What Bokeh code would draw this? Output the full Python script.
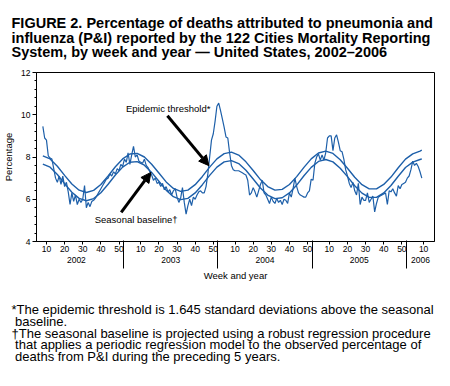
from bokeh.plotting import figure
from bokeh.models import FixedTicker, LinearAxis, Label, Arrow, NormalHead, Range1d, Title
from bokeh.embed import file_html
from bokeh.resources import INLINE

# ---------------- data ----------------
YEARS = [2002, 2003, 2004, 2005, 2006]
WEEKS_PER_YEAR = 52
FIRST_WEEK = 8                 # first observation: 2002, week 8
WEEK_TICKS = [10, 20, 30, 40, 50]
Y_TICKS = [4, 6, 8, 10, 12]

# weekly percentage of deaths due to P&I (observed)
pct = [
    9.45, 8.9, 8.8, 8.05, 7.95, 7.9, 7.45, 7.0, 6.8, 7.1,
    6.7, 7.1, 6.6, 6.8, 6.35, 5.75, 6.3, 5.9, 6.2, 5.75,
    6.0, 5.85, 6.0, 6.65, 5.6, 5.85, 5.65, 5.9, 5.95, 6.05,
    6.2, 6.35, 6.5, 6.65, 6.8, 6.95, 7.0, 7.2, 7.1, 7.3,
    7.2, 7.45, 7.35, 7.65, 7.55, 7.9, 7.75, 8.2, 7.65, 8.1,
    8.5, 8.0, 8.1, 7.8, 7.75, 7.7, 7.9, 7.6, 7.5, 7.3,
    7.15, 6.9, 7.0, 6.75, 6.8, 6.6, 6.75, 6.45, 6.6, 6.35,
    6.45, 6.2, 6.4, 6.5, 6.1, 5.85, 6.05, 6.55, 5.85, 5.3,
    5.7, 6.0, 5.7, 6.1, 6.0, 6.2, 6.35, 6.4, 6.3, 6.3,
    6.6, 7.2, 8.0, 8.8, 9.1, 9.7, 10.4, 10.55, 10.2, 9.8,
    9.4, 8.95, 8.9, 8.2, 7.6, 7.4, 7.35, 7.35, 7.35, 7.3,
    7.25, 7.2, 7.15, 6.9, 6.2, 6.3, 6.55, 6.35, 6.1, 6.4,
    6.7, 6.9, 6.3, 6.2, 6.0, 5.8, 6.1, 5.9, 5.8, 6.05,
    5.85, 5.95, 5.75, 6.0, 5.95, 5.8, 6.3, 6.1, 6.5, 7.0,
    6.6, 6.3, 6.2, 6.15, 6.1, 6.1, 6.3, 6.4, 6.95, 6.9,
    7.7, 8.0, 8.15, 7.85, 8.1, 7.85, 8.2, 8.9, 9.0, 9.0,
    8.3, 8.9, 9.05, 8.7, 8.3, 8.25, 7.9, 7.4, 7.1, 6.75,
    6.55, 6.8, 6.4, 6.2, 6.75, 5.75, 6.1, 5.95, 5.95, 6.3,
    5.85, 6.0, 6.15, 5.4, 5.8, 6.1, 6.15, 6.2, 6.25, 6.3,
    5.75, 6.4, 6.35, 6.5, 6.3, 6.15, 6.65, 6.5, 6.7, 6.75,
    6.8, 7.0, 7.1, 7.4, 7.8, 7.6, 7.7, 7.55, 7.3, 7.0,
]

# seasonal baseline and epidemic threshold, read every 4 weeks (last = final week)
BASE_STEP = 4
baseline = [
    7.66, 7.52, 7.17, 6.74, 6.33, 6.04, 5.93, 6.03, 6.31, 6.71,
    7.15, 7.52, 7.75, 7.78, 7.61, 7.27, 6.85, 6.43, 6.12, 5.98,
    6.04, 6.30, 6.69, 7.13, 7.52, 7.77, 7.83, 7.69, 7.37, 6.96,
    6.53, 6.20, 6.03, 6.07, 6.30, 6.67, 7.11, 7.51, 7.79, 7.88,
    7.77, 7.47, 7.07, 6.64, 6.29, 6.09, 6.09, 6.30, 6.65, 7.09,
    7.50, 7.76, 7.88, 7.91,
]
threshold = [
    8.05, 7.91, 7.56, 7.13, 6.72, 6.43, 6.32, 6.42, 6.70, 7.10,
    7.54, 7.91, 8.14, 8.17, 8.00, 7.66, 7.24, 6.82, 6.51, 6.37,
    6.43, 6.69, 7.08, 7.52, 7.91, 8.16, 8.23, 8.09, 7.77, 7.36,
    6.93, 6.60, 6.43, 6.47, 6.70, 7.07, 7.51, 7.91, 8.19, 8.28,
    8.17, 7.87, 7.47, 7.04, 6.69, 6.49, 6.49, 6.70, 7.05, 7.49,
    7.90, 8.15, 8.28, 8.32,
]

TITLE = [
    "FIGURE 2. Percentage of deaths attributed to pneumonia and",
    "influenza (P&I) reported by the 122 Cities Mortality Reporting",
    "System, by week and year \u2014 United States, 2002\u20132006",
]
FOOTNOTES = [
    "*The epidemic threshold is 1.645 standard deviations above the seasonal",
    "\u00a0baseline.",
    "\u2020The seasonal baseline is projected using a robust regression procedure",
    "\u00a0that applies a periodic regression model to the observed percentage of",
    "\u00a0deaths from P&I during the preceding 5 years.",
]

# ---------------- styles ----------------
BLUE = "#1d5fa9"
FONT = "Liberation Sans"


def xpos(year, week):
    return (year - YEARS[0]) * WEEKS_PER_YEAR + week


obs_x = [FIRST_WEEK + i for i in range(len(pct))]
base_x = [FIRST_WEEK + min(i * BASE_STEP, len(pct) - 1) for i in range(len(baseline))]

X_START, X_END = 4.5, 224.0

p = figure(width=450, height=386, x_range=Range1d(X_START, X_END), y_range=Range1d(4, 12),
           output_backend="svg", toolbar_location=None,
           min_border_left=33, min_border_right=16, min_border_top=72, min_border_bottom=145)
p.background_fill_color = "white"
p.border_fill_color = "white"
p.outline_line_color = "black"
p.outline_line_width = 1
p.grid.visible = False

# title (multi-line)
p.title.text = "\n".join(TITLE)
p.title.text_font = FONT
p.title.text_font_size = "14.5px"
p.title.text_font_style = "bold"
p.title.text_color = "black"
p.title.text_line_height = 0.92
p.title.align = "left"
p.title.offset = -25
p.title.standoff = 24

# observed and model lines
p.line(base_x, threshold, color=BLUE, line_width=1.4)
p.line(base_x, baseline, color=BLUE, line_width=1.4)
p.line(obs_x, pct, color=BLUE, line_width=1.2)

# y axis
minor_y = [a + k * 0.4 for a in Y_TICKS[:-1] for k in range(1, 5)]
ya = p.yaxis[0]
ya.ticker = FixedTicker(ticks=Y_TICKS, minor_ticks=minor_y)
ya.axis_line_color = "black"
ya.major_tick_out = 4
ya.major_tick_in = 0
ya.minor_tick_out = 2
ya.minor_tick_in = 0
ya.major_tick_line_color = "black"
ya.minor_tick_line_color = "black"
ya.major_label_text_font = FONT
ya.major_label_text_font_size = "8.5px"
ya.major_label_text_color = "black"
ya.major_label_standoff = 2
ya.axis_label = "Percentage"
ya.axis_label_text_font = FONT
ya.axis_label_text_font_size = "9.5px"
ya.axis_label_text_font_style = "normal"
ya.axis_label_text_color = "black"
ya.axis_label_standoff = 4

# x axis: week ticks
week_ticks = [xpos(y, w) for y in YEARS for w in WEEK_TICKS if xpos(y, w) <= X_END]
xa = p.xaxis[0]
xa.ticker = FixedTicker(ticks=week_ticks, minor_ticks=[])
xa.major_label_overrides = {t: str((t - 1) % WEEKS_PER_YEAR + 1) for t in week_ticks}
xa.axis_line_color = "black"
xa.major_tick_out = 3
xa.major_tick_in = 0
xa.major_tick_line_color = "black"
xa.major_label_text_font = FONT
xa.major_label_text_font_size = "8.5px"
xa.major_label_text_color = "black"
xa.major_label_standoff = 1

# year axis: year labels + separators (minor ticks reaching up to the frame)
separators = [xpos(y, 0.5) for y in YEARS[1:]]
year_pos = [xpos(y, 26.5) for y in YEARS[:-1]] + [(xpos(YEARS[-1], 0.5) + X_END) / 2]
yax = LinearAxis(ticker=FixedTicker(ticks=year_pos, minor_ticks=separators))
yax.major_label_overrides = {t: str(y) for t, y in zip(year_pos, YEARS)}
yax.axis_line_color = None
yax.major_tick_line_color = None
yax.major_tick_out = 0
yax.major_tick_in = 0
yax.minor_tick_line_color = "black"
yax.minor_tick_in = 14
yax.minor_tick_out = 14
yax.major_label_standoff = -12
yax.major_label_text_font = FONT
yax.major_label_text_font_size = "8.5px"
yax.major_label_text_color = "black"
yax.axis_label = "Week and year"
yax.axis_label_text_font = FONT
yax.axis_label_text_font_size = "9.5px"
yax.axis_label_text_font_style = "normal"
yax.axis_label_text_color = "black"
yax.axis_label_standoff = 4
p.add_layout(yax, "below")

# footnotes
foot = Title(text="\n".join(FOOTNOTES), text_font=FONT, text_font_size="13px",
             text_font_style="normal", text_color="black", text_line_height=0.78,
             align="left", offset=-25, standoff=33)
p.add_layout(foot, "below")

# annotations with arrows
p.add_layout(Label(x=53.8, y=10.28, text="Epidemic threshold*", text_font=FONT,
                   text_font_size="9.5px", text_baseline="middle", text_color="black"))
p.add_layout(Label(x=36.6, y=5.02, text="Seasonal baseline\u2020", text_font=FONT,
                   text_font_size="9.5px", text_baseline="middle", text_color="black"))
p.add_layout(Arrow(end=NormalHead(size=10, fill_color="black", line_color="black"),
                   x_start=76.7, y_start=9.95, x_end=99.6, y_end=7.59,
                   line_width=3, line_color="black"))
p.add_layout(Arrow(end=NormalHead(size=10, fill_color="black", line_color="black"),
                   x_start=51.2, y_start=5.38, x_end=67.6, y_end=7.27,
                   line_width=3, line_color="black"))

open("out.html", "w").write(file_html(p, INLINE))
